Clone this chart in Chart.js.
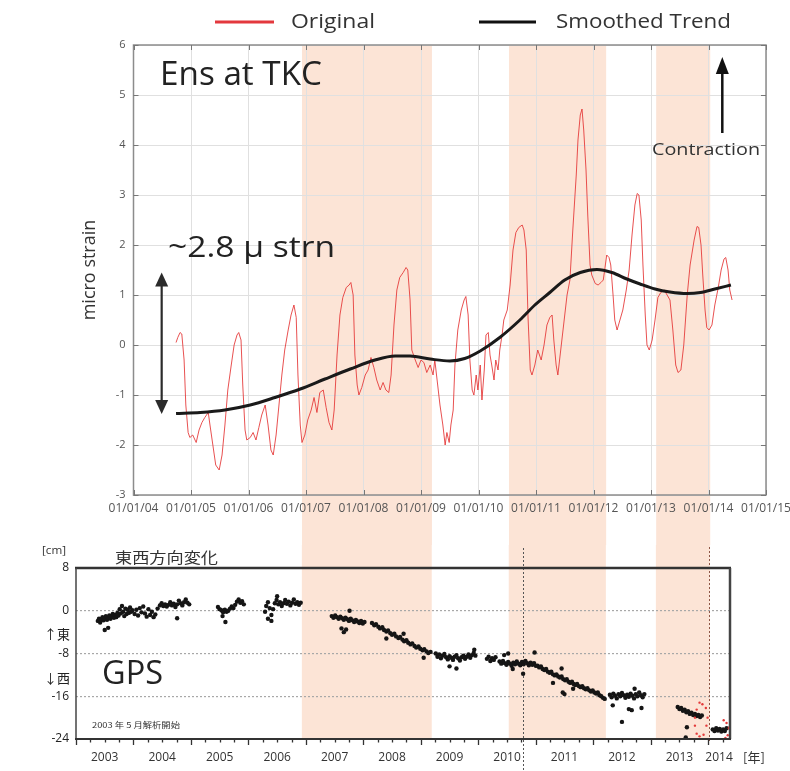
<!DOCTYPE html>
<html><head><meta charset="utf-8">
<script src="https://cdn.jsdelivr.net/npm/chart.js@4.4.1/dist/chart.umd.min.js"></script>
<style>
html,body{margin:0;padding:0;background:#fff;}
#wrap{position:relative;width:790px;height:771px;overflow:hidden;background:#fff;}
canvas{position:absolute;left:0;}
#top{top:0;width:790px;height:545px;}
#bottom{top:545px;width:790px;height:226px;}
</style></head><body>
<div id="wrap"><canvas id="top" width="790" height="545"></canvas><canvas id="bottom" width="790" height="226"></canvas></div>
<script>
// ---------- Top panel: Ens strain at TKC (micro strain) ----------
const strainYears = [
2004.74,2004.77,2004.81,2004.84,2004.88,2004.91,2004.95,2004.98,
2005.03,2005.09,2005.14,2005.19,2005.24,2005.30,2005.33,2005.38,2005.43,2005.49,2005.54,2005.59,2005.64,2005.70,2005.75,2005.80,2005.83,2005.87,2005.90,2005.94,2005.97,
2006.03,2006.08,2006.13,2006.18,2006.23,2006.29,2006.34,2006.39,2006.43,2006.48,2006.53,2006.58,2006.63,2006.69,2006.74,2006.79,2006.83,2006.86,2006.90,2006.93,2006.98,
2007.03,2007.09,2007.14,2007.19,2007.24,2007.30,2007.35,2007.40,2007.45,2007.49,2007.54,2007.59,2007.64,2007.70,2007.75,2007.78,2007.82,2007.85,2007.89,2007.92,2007.97,
2008.03,2008.08,2008.13,2008.18,2008.23,2008.29,2008.34,2008.39,2008.44,2008.48,2008.53,2008.58,2008.63,2008.69,2008.74,2008.77,2008.81,2008.84,2008.90,2008.95,
2009.00,2009.05,2009.10,2009.16,2009.21,2009.24,2009.28,2009.33,2009.38,2009.42,2009.45,2009.49,2009.52,2009.56,2009.59,2009.64,2009.70,2009.75,2009.78,2009.82,2009.85,2009.89,2009.92,2009.96,2009.99,
2010.03,2010.06,2010.10,2010.13,2010.17,2010.20,2010.23,2010.27,2010.30,2010.34,2010.37,2010.41,2010.44,2010.50,2010.55,2010.60,2010.65,2010.70,2010.76,2010.79,2010.83,2010.86,2010.90,2010.93,2010.98,
2011.03,2011.09,2011.14,2011.19,2011.24,2011.28,2011.31,2011.35,2011.38,2011.43,2011.49,2011.54,2011.59,2011.64,2011.70,2011.73,2011.77,2011.80,2011.83,2011.87,2011.90,2011.94,2011.97,
2012.03,2012.08,2012.13,2012.17,2012.20,2012.23,2012.27,2012.30,2012.34,2012.37,2012.41,2012.46,2012.51,2012.57,2012.62,2012.67,2012.72,2012.76,2012.79,2012.83,2012.86,2012.90,2012.93,2012.97,
2013.02,2013.07,2013.12,2013.17,2013.23,2013.28,2013.33,2013.38,2013.43,2013.47,2013.52,2013.57,2013.63,2013.68,2013.75,2013.80,2013.83,2013.87,2013.90,2013.94,2013.97,
2014.01,2014.06,2014.11,2014.17,2014.22,2014.27,2014.30,2014.34,2014.37,2014.41];
const strainValues = [
0.05,0.15,0.25,0.22,-0.3,-1.2,-1.75,-1.85,
-1.8,-1.95,-1.7,-1.55,-1.45,-1.35,-1.6,-2.0,-2.4,-2.5,-2.2,-1.6,-0.9,-0.4,0.0,0.2,0.25,0.1,-0.8,-1.7,-1.9,
-1.85,-1.75,-1.9,-1.65,-1.4,-1.2,-1.6,-2.1,-2.2,-1.8,-1.2,-0.6,-0.1,0.3,0.6,0.8,0.55,-0.6,-1.6,-1.95,-1.8,
-1.5,-1.3,-1.05,-1.35,-0.95,-0.9,-1.25,-1.55,-1.7,-1.3,-0.2,0.6,0.95,1.15,1.2,1.25,1.0,-0.2,-0.8,-1.0,-0.85,
-0.6,-0.5,-0.25,-0.45,-0.7,-0.9,-0.75,-0.9,-0.95,-0.6,0.4,1.1,1.35,1.45,1.55,1.5,0.9,-0.1,-0.3,-0.45,
-0.3,-0.35,-0.55,-0.4,-0.6,-0.3,-0.7,-1.2,-1.6,-2.0,-1.75,-1.95,-1.6,-1.3,-0.4,0.3,0.7,0.9,0.97,0.6,-0.3,-0.9,-1.0,-0.6,-0.9,
-0.4,-1.1,-0.5,0.2,0.25,-0.2,-0.4,-0.7,-0.3,-0.5,-0.1,0.2,0.5,0.7,1.2,1.9,2.25,2.35,2.4,2.3,1.9,0.6,-0.5,-0.6,-0.4,
-0.1,-0.3,0.0,0.4,0.55,0.6,0.1,-0.4,-0.6,-0.1,0.5,1.0,1.3,2.3,3.4,4.1,4.6,4.72,4.3,3.5,2.6,1.6,1.4,
1.23,1.2,1.25,1.3,1.55,1.8,1.75,1.6,1.0,0.5,0.3,0.5,0.7,1.1,1.5,2.2,2.8,3.03,3.0,2.5,1.6,0.6,0.0,-0.1,
0.1,0.5,0.95,1.05,1.1,1.0,0.9,0.3,-0.4,-0.55,-0.5,0.0,1.0,1.6,2.1,2.37,2.35,2.0,1.4,0.7,0.35,
0.3,0.4,0.8,1.15,1.5,1.72,1.75,1.5,1.1,0.9];
const trendYears = [2004.74,2005.16,2005.59,2006.03,2006.46,2006.90,2007.33,2007.77,2008.20,2008.55,2008.81,2009.16,2009.50,2009.76,2010.03,2010.37,2010.72,2010.98,2011.24,2011.50,2011.77,2012.06,2012.32,2012.58,2012.81,2013.07,2013.33,2013.63,2013.86,2014.11,2014.39];
const trendValues = [-1.37,-1.35,-1.3,-1.2,-1.05,-0.88,-0.68,-0.48,-0.3,-0.22,-0.22,-0.28,-0.32,-0.27,-0.12,0.15,0.5,0.8,1.05,1.3,1.45,1.51,1.45,1.32,1.22,1.12,1.06,1.03,1.05,1.12,1.2];
const strainTickYears = [2004,2005,2006,2007,2008,2009,2010,2011,2012,2013,2014,2015];
const strainTickValues = [-3,-2,-1,0,1,2,3,4,5,6];

// shaded periods (shared by both panels)
const bandStarts = [2006.93, 2010.53, 2013.09];
const bandEnds   = [2009.19, 2012.22, 2014.03];

// ---------- Bottom panel: GPS east-west change (cm) ----------
const gpsYears = [
2003.38,2003.40,2003.42,2003.44,2003.46,2003.48,2003.50,2003.52,2003.54,2003.56,2003.58,2003.60,2003.62,2003.64,2003.66,2003.68,2003.70,2003.72,2003.74,2003.76,2003.78,2003.80,2003.82,2003.84,2003.86,2003.88,2003.90,2003.92,2003.94,2003.96,2003.98,2003.50,2003.56,
2004.02,2004.05,2004.08,2004.11,2004.14,2004.17,2004.20,2004.23,2004.26,2004.29,2004.32,2004.35,2004.38,2004.42,2004.46,2004.49,2004.52,2004.55,2004.58,2004.61,2004.64,2004.67,2004.70,2004.73,2004.76,2004.79,2004.82,2004.85,2004.88,2004.91,2004.94,2004.97,2004.76,
2005.47,2005.50,2005.53,2005.56,2005.59,2005.62,2005.65,2005.68,2005.71,2005.74,2005.77,2005.80,2005.83,2005.86,2005.89,2005.92,2005.60,2005.55,
2006.29,2006.31,2006.34,2006.37,2006.40,2006.43,2006.46,2006.49,2006.52,2006.55,2006.58,2006.61,2006.64,2006.67,2006.70,2006.73,2006.76,2006.79,2006.82,2006.85,2006.88,2006.91,2006.34,2006.50,2006.40,
2007.45,2007.48,2007.51,2007.54,2007.57,2007.60,2007.63,2007.66,2007.69,2007.72,2007.75,2007.78,2007.81,2007.84,2007.87,2007.90,2007.93,2007.96,2007.99,2008.02,2007.62,2007.66,2007.70,2007.76,
2008.15,2008.19,2008.22,2008.26,2008.29,2008.33,2008.36,2008.40,2008.43,2008.47,2008.50,2008.54,2008.57,2008.61,2008.64,2008.68,2008.71,2008.75,2008.78,2008.82,2008.85,2008.89,2008.92,2008.96,2008.99,2009.03,2009.06,2009.10,2009.13,2009.17,2008.40,2008.70,2009.05,
2009.26,2009.29,2009.32,2009.35,2009.38,2009.41,2009.44,2009.47,2009.50,2009.53,2009.56,2009.59,2009.62,2009.65,2009.68,2009.71,2009.74,2009.77,2009.80,2009.83,2009.86,2009.89,2009.92,2009.95,2009.50,2009.62,2009.93,
2010.15,2010.18,2010.21,2010.24,2010.27,2010.30,
2010.37,2010.40,2010.43,2010.46,2010.49,2010.52,2010.55,2010.58,2010.61,2010.64,2010.67,2010.70,2010.73,2010.76,2010.79,2010.82,2010.85,2010.88,2010.91,2010.94,2010.97,2011.00,2010.52,2010.60,2010.78,2010.98,2010.45,
2011.03,2011.06,2011.09,2011.12,2011.15,2011.18,2011.21,2011.24,2011.27,2011.30,2011.33,2011.36,2011.39,2011.42,2011.45,2011.48,2011.51,2011.54,2011.57,2011.60,2011.63,2011.66,2011.69,2011.72,2011.75,2011.78,2011.81,2011.84,2011.87,2011.90,2011.93,2011.96,2011.99,2012.02,2012.05,2012.08,2012.11,2012.14,2012.17,2012.20,2011.30,2011.47,2011.50,2011.65,2011.45,
2012.29,2012.32,2012.35,2012.38,2012.41,2012.44,2012.47,2012.50,2012.53,2012.56,2012.59,2012.62,2012.65,2012.68,2012.71,2012.74,2012.77,2012.80,2012.83,2012.86,2012.89,2012.34,2012.50,2012.62,2012.67,2012.84,2012.72,
2013.47,2013.50,2013.53,2013.56,2013.59,2013.62,2013.65,2013.68,2013.71,2013.74,2013.77,2013.80,2013.83,2013.86,2013.89,2013.63,2013.61,
2014.08,2014.11,2014.14,2014.17,2014.20,2014.23,2014.26,2014.29,2014.32];
const gpsEastWest = [
-1.9,-1.5,-2.2,-1.6,-1.2,-1.8,-1.4,-1.0,-1.7,-1.3,-0.9,-1.5,-1.1,-0.6,-1.3,-0.8,-1.2,-0.4,-0.9,0.3,-0.5,0.9,-0.2,-1.0,0.4,-0.6,0.2,-0.4,0.6,-0.2,0.1,-3.6,-3.2,
-0.6,0.2,-0.9,0.5,-0.3,0.8,-0.5,-1.1,0.3,-0.8,-0.2,-1.2,-0.7,0.4,1.0,1.4,0.9,1.2,0.8,1.1,1.6,1.0,1.3,0.7,1.2,1.9,1.4,1.0,1.6,2.1,1.5,1.2,-1.4,
0.7,0.3,0.1,-0.3,0.2,-0.2,0.0,0.4,0.8,0.5,1.1,1.7,2.1,1.5,1.8,1.2,-2.1,-1.0,
-0.2,0.9,1.6,0.5,-0.8,0.3,1.4,2.0,1.2,1.6,0.9,1.4,2.0,1.3,1.7,1.0,1.5,2.1,1.3,1.6,1.1,1.5,-1.5,2.7,-1.9,
-1.0,-1.3,-0.9,-1.2,-1.5,-1.1,-1.4,-1.7,-1.3,-1.6,-1.9,-1.5,-1.8,-2.1,-1.7,-2.0,-2.3,-1.9,-2.4,-2.1,-3.3,-4.0,-3.5,0.0,
-2.3,-2.7,-2.5,-3.0,-3.3,-3.1,-3.6,-3.9,-3.7,-4.2,-4.5,-4.3,-4.8,-5.1,-4.9,-5.4,-5.7,-5.5,-6.0,-6.3,-6.1,-6.6,-6.9,-6.7,-7.1,-7.4,-7.2,-7.6,-7.9,-7.7,-5.2,-4.3,-8.8,
-8.0,-8.6,-8.2,-8.9,-8.4,-8.1,-8.7,-9.1,-8.5,-8.8,-9.2,-8.6,-8.3,-8.9,-9.3,-8.7,-8.4,-9.0,-8.6,-8.2,-8.8,-8.3,-7.9,-8.4,-10.4,-10.8,-7.3,
-9.0,-8.6,-9.4,-8.9,-9.2,-8.7,
-9.5,-9.9,-9.4,-9.8,-10.1,-9.6,-9.9,-10.3,-9.7,-10.0,-9.5,-9.9,-10.2,-9.6,-10.0,-9.4,-9.8,-10.2,-9.7,-10.1,-9.8,-10.3,-8.0,-10.9,-11.8,-7.8,-8.3,
-10.3,-10.6,-10.4,-10.9,-11.1,-10.9,-11.4,-11.6,-11.4,-11.9,-12.1,-11.9,-12.3,-12.5,-12.3,-12.8,-13.0,-12.8,-13.3,-13.5,-13.3,-13.7,-13.9,-13.7,-14.1,-14.3,-14.1,-14.5,-14.7,-14.5,-14.9,-15.1,-14.9,-15.3,-15.5,-15.3,-15.8,-16.0,-16.3,-16.5,-13.5,-15.3,-15.6,-14.6,-10.8,
-15.7,-16.2,-15.5,-15.9,-16.4,-15.6,-16.0,-15.4,-15.8,-16.3,-15.7,-16.1,-15.5,-15.9,-16.4,-15.6,-16.0,-15.3,-15.8,-16.2,-15.6,-17.7,-20.8,-18.4,-18.6,-18.2,-14.6,
-18.0,-18.4,-18.2,-18.7,-18.5,-19.0,-18.8,-19.3,-19.1,-19.5,-19.3,-19.7,-19.5,-19.9,-19.6,-21.8,-23.7,
-22.2,-22.5,-22.0,-22.4,-22.1,-22.6,-22.2,-22.5,-22.0];
const gpsRecentYears = [2013.85,2013.80,2013.77,2013.77,2013.80,2013.85,2013.92,2013.97,2013.99,2013.96,2013.90,2014.27,2014.32,2014.36,2014.34,2014.30,2014.37];
const gpsRecentEastWest = [-17.2,-18.5,-20.0,-21.5,-23.0,-23.5,-23.2,-21.5,-20.0,-18.2,-17.5,-20.5,-21.0,-22.0,-23.3,-23.8,-21.8];
const gpsTickYears = [2003,2004,2005,2006,2007,2008,2009,2010,2011,2012,2013,2014];
const gpsTicksCm = [8,0,-8,-16,-24];
const markerYears = [2010.77, 2014.01];

// ---------- helpers ----------
Chart.defaults.font.family = "'Open Sans', 'Noto Sans', sans-serif";
const BAND = '#fce4d6';
const CJK = "'Noto Sans CJK JP'";

function fitText(ctx, text, left, midY, font, width, color) {
  ctx.save();
  ctx.font = font; ctx.fillStyle = color;
  ctx.textBaseline = 'middle'; ctx.textAlign = 'left';
  const w = ctx.measureText(text).width;
  const sx = width ? width / w : 1;
  ctx.translate(left, midY); ctx.scale(sx, 1);
  ctx.fillText(text, 0, 0);
  ctx.restore();
}
function arrowHead(ctx, x, tipY, dir, w, h) { // dir -1 = up, +1 = down
  ctx.beginPath();
  ctx.moveTo(x, tipY);
  ctx.lineTo(x - w / 2, tipY - dir * h);
  ctx.lineTo(x + w / 2, tipY - dir * h);
  ctx.closePath(); ctx.fill();
}
function hLine(ctx, x0, x1, y, color, w) {
  ctx.save(); ctx.strokeStyle = color; ctx.lineWidth = w;
  ctx.beginPath(); ctx.moveTo(x0, y); ctx.lineTo(x1, y); ctx.stroke(); ctx.restore();
}
function noLabelPadding(s) { s.paddingLeft = 0; s.paddingRight = 0; }

// ---------- top panel decorations ----------
const topDecor = {
  id: 'topDecor',
  beforeDraw(chart) {
    const {ctx, chartArea: a, scales: {x}} = chart;
    ctx.save(); ctx.fillStyle = BAND;
    bandStarts.forEach((s, i) => {
      const x0 = x.getPixelForValue(s), x1 = x.getPixelForValue(bandEnds[i]);
      ctx.fillRect(x0, a.top, x1 - x0, chart.height - a.top);
    });
    ctx.restore();
  },
  afterDraw(chart) {
    const {ctx, chartArea: a, scales: {x, y}} = chart;
    ctx.save();
    ctx.strokeStyle = '#8c8c8c'; ctx.lineWidth = 1.5;
    ctx.strokeRect(a.left, a.top, a.right - a.left, a.bottom - a.top);
    ctx.strokeStyle = '#777'; ctx.lineWidth = 1;
    ctx.beginPath();
    strainTickYears.forEach(v => {
      const px = Math.round(x.getPixelForValue(v)) + 0.5;
      ctx.moveTo(px, a.bottom); ctx.lineTo(px, a.bottom - 5);
      ctx.moveTo(px, a.top); ctx.lineTo(px, a.top + 5);
    });
    strainTickValues.forEach(v => {
      const py = Math.round(y.getPixelForValue(v)) + 0.5;
      ctx.moveTo(a.left, py); ctx.lineTo(a.left + 5, py);
      ctx.moveTo(a.right, py); ctx.lineTo(a.right - 5, py);
    });
    ctx.stroke();
    ctx.restore();

    // legend
    const ds = chart.data.datasets;
    hLine(ctx, 215, 274, 22, '#e3383d', 3);
    fitText(ctx, ds[0].label, 291, 22, "20px 'Open Sans'", 84, '#333');
    hLine(ctx, 479, 536, 22, '#111', 3);
    fitText(ctx, ds[1].label, 556, 22, "20px 'Open Sans'", 175, '#333');

    // station label
    fitText(ctx, 'Ens at TKC', 160, 76, "32px 'Open Sans'", 162, '#222');

    // amplitude arrow (~2.8 micro strain)
    const ax = x.getPixelForValue(2004.49);
    const yTop = y.getPixelForValue(1.45), yBot = y.getPixelForValue(-1.38);
    ctx.save();
    ctx.strokeStyle = '#2b2b2b'; ctx.fillStyle = '#2b2b2b'; ctx.lineWidth = 2.2;
    ctx.beginPath(); ctx.moveTo(ax, yTop + 10); ctx.lineTo(ax, yBot - 10); ctx.stroke();
    arrowHead(ctx, ax, yTop, -1, 13, 14);
    arrowHead(ctx, ax, yBot, 1, 13, 14);
    ctx.restore();
    fitText(ctx, '~2.8 \u03bc strn', 168, 248, "30px 'Open Sans'", 167, '#222');

    // contraction arrow
    const cx = x.getPixelForValue(2014.24);
    const cTip = y.getPixelForValue(5.76), cBase = y.getPixelForValue(4.24);
    ctx.save();
    ctx.strokeStyle = '#111'; ctx.fillStyle = '#111'; ctx.lineWidth = 2.5;
    ctx.beginPath(); ctx.moveTo(cx, cBase); ctx.lineTo(cx, cTip + 10); ctx.stroke();
    arrowHead(ctx, cx, cTip, -1, 13, 17);
    ctx.restore();
    fitText(ctx, 'Contraction', 652, 150, "17px 'Open Sans'", 108, '#333');
  }
};

new Chart(document.getElementById('top'), {
  type: 'line',
  data: {
    datasets: [
      {label: 'Original', data: strainYears.map((t, i) => ({x: t, y: strainValues[i]})),
       borderColor: 'rgba(228,50,50,0.85)', borderWidth: 1, pointRadius: 0, tension: 0, order: 1},
      {label: 'Smoothed Trend', data: trendYears.map((t, i) => ({x: t, y: trendValues[i]})),
       borderColor: '#1a1a1a', borderWidth: 3, pointRadius: 0, cubicInterpolationMode: 'monotone', order: 0}
    ]
  },
  options: {
    responsive: false, animation: false, events: [],
    layout: {autoPadding: false, padding: {left: 0, top: 45, right: 24, bottom: 20}},
    plugins: {legend: {display: false}, tooltip: {enabled: false}},
    scales: {
      x: {
        type: 'linear', min: 2004, max: 2015,
        afterBuildTicks: s => { s.ticks = strainTickYears.map(v => ({value: v})); },
        afterFit: s => { s.height = 30; noLabelPadding(s); },
        grid: {color: '#e0e0e0', lineWidth: 1, drawTicks: false},
        border: {display: false},
        ticks: {autoSkip: false, maxRotation: 0, minRotation: 0, padding: 6, color: '#555',
                font: {size: 12}, callback: v => '01/01/' + String(v).slice(2)}
      },
      y: {
        type: 'linear', min: -3, max: 6,
        afterBuildTicks: s => { s.ticks = strainTickValues.map(v => ({value: v})); },
        afterFit: s => { s.width = 133.5; },
        grid: {color: '#e0e0e0', lineWidth: 1, drawTicks: false},
        border: {display: false},
        ticks: {padding: 8, color: '#555', font: {size: 11}},
        title: {display: true, text: 'micro strain', color: '#333', font: {size: 18}, padding: {top: 79, bottom: 0}}
      }
    }
  },
  plugins: [topDecor]
});

// ---------- bottom panel decorations ----------
const bottomDecor = {
  id: 'bottomDecor',
  beforeDraw(chart) {
    const {ctx, chartArea: a, scales: {x}} = chart;
    ctx.save(); ctx.fillStyle = BAND;
    bandStarts.forEach((s, i) => {
      const x0 = x.getPixelForValue(s), x1 = x.getPixelForValue(bandEnds[i]);
      ctx.fillRect(x0, 0, x1 - x0, a.bottom);
    });
    ctx.restore();
  },
  beforeDatasetsDraw(chart) {
    const {ctx, chartArea: a, scales: {x}} = chart;
    ctx.save(); ctx.lineWidth = 1; ctx.setLineDash([2, 2]);
    const m0 = Math.round(x.getPixelForValue(markerYears[0])) + 0.5;
    ctx.strokeStyle = '#555';
    ctx.beginPath(); ctx.moveTo(m0, 3); ctx.lineTo(m0, chart.height); ctx.stroke();
    const m1 = Math.round(x.getPixelForValue(markerYears[1])) + 0.5;
    ctx.strokeStyle = '#8e5646';
    ctx.beginPath(); ctx.moveTo(m1, 2); ctx.lineTo(m1, a.bottom + 3); ctx.stroke();
    ctx.restore();
  },
  afterDraw(chart) {
    const {ctx, chartArea: a, scales: {x}} = chart;
    ctx.save();
    ctx.strokeStyle = '#333';
    ctx.lineWidth = 2.5;
    ctx.beginPath(); ctx.moveTo(a.left - 1, a.top); ctx.lineTo(a.right + 1, a.top); ctx.stroke();
    ctx.strokeStyle = '#444';
    ctx.beginPath(); ctx.moveTo(a.right, a.top); ctx.lineTo(a.right, a.bottom); ctx.stroke();
    ctx.lineWidth = 1.5; ctx.strokeStyle = '#444';
    ctx.beginPath(); ctx.moveTo(a.left, a.top); ctx.lineTo(a.left, a.bottom); ctx.stroke();
    ctx.lineWidth = 2; ctx.strokeStyle = '#333';
    ctx.beginPath(); ctx.moveTo(a.left - 1, a.bottom); ctx.lineTo(a.right + 1, a.bottom); ctx.stroke();
    ctx.lineWidth = 1.3; ctx.strokeStyle = '#333';
    ctx.beginPath();
    gpsTickYears.forEach(yr => {
      for (let k = 0; k < 4; k++) {
        const v = yr + k / 4;
        if (v < x.min || v > x.max) continue;
        const px = Math.round(x.getPixelForValue(v)) + 0.5;
        ctx.moveTo(px, a.bottom); ctx.lineTo(px, a.bottom + (k === 0 ? 6 : 3.5));
      }
    });
    ctx.stroke();
    ctx.restore();

    fitText(ctx, '東西方向変化', 115, 12, "15px " + CJK, 103, '#333');
    fitText(ctx, '[cm]', 42, 6, "11px 'Open Sans'", 24, '#333');
    fitText(ctx, '↑東', 44, 89, "13px " + CJK, 0, '#222');
    fitText(ctx, '↓西', 44, 133, "13px " + CJK, 0, '#222');
    fitText(ctx, 'GPS', 102, 130, "32px 'Open Sans'", 61, '#222');
    fitText(ctx, '2003 年 5 月解析開始', 92, 180, "8px " + CJK, 88, '#333');
    fitText(ctx, '[年]', 743, 212, "13px " + CJK, 0, '#333');
  }
};

new Chart(document.getElementById('bottom'), {
  type: 'scatter',
  data: {
    datasets: [
      {label: 'GPS east-west', data: gpsYears.map((t, i) => ({x: t, y: gpsEastWest[i]})),
       pointRadius: 2.2, pointBackgroundColor: '#151515', pointBorderWidth: 0, order: 1},
      {label: 'GPS recent', data: gpsRecentYears.map((t, i) => ({x: t, y: gpsRecentEastWest[i]})),
       pointRadius: 1.2, pointBackgroundColor: '#e43a3a', pointBorderWidth: 0, order: 0}
    ]
  },
  options: {
    responsive: false, animation: false, events: [],
    layout: {autoPadding: false, padding: {left: 0, top: 23, right: 60, bottom: 0}},
    plugins: {legend: {display: false}, tooltip: {enabled: false}},
    scales: {
      x: {
        type: 'linear', min: 2003, max: 2014.38,
        afterBuildTicks: s => { s.ticks = gpsTickYears.map(yr => ({value: (yr + Math.min(yr + 1, s.max)) / 2})); },
        afterFit: s => { s.height = 32; noLabelPadding(s); },
        grid: {display: false, drawTicks: false},
        border: {display: false},
        ticks: {autoSkip: false, maxRotation: 0, minRotation: 0, padding: 11, color: '#333',
                font: {size: 12}, callback: v => String(Math.floor(v))}
      },
      y: {
        type: 'linear', min: -24, max: 8,
        afterBuildTicks: s => { s.ticks = gpsTicksCm.map(v => ({value: v})); },
        afterFit: s => { s.width = 76; },
        grid: {drawTicks: false, lineWidth: 1.2,
               color: c => (c.tick && c.tick.value < 8 && c.tick.value > -24) ? '#a8a8a8' : 'rgba(0,0,0,0)'},
        border: {display: false, dash: [2, 2]},
        ticks: {padding: 7, color: '#222', font: {size: 12}}
      }
    }
  },
  plugins: [bottomDecor]
});
</script>
</body></html>
